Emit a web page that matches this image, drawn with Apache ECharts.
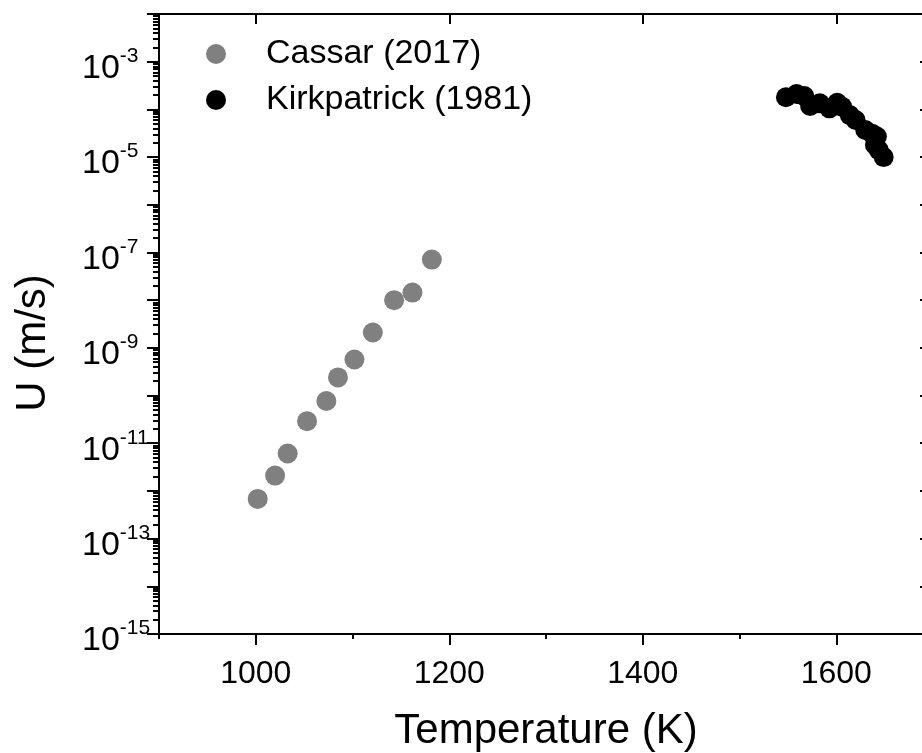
<!DOCTYPE html>
<html>
<head>
<meta charset="utf-8">
<script src="https://cdn.jsdelivr.net/npm/echarts@6/dist/echarts.min.js"></script>
<style>
  html, body { margin: 0; padding: 0; background: #fff; }
  #chart { width: 922px; height: 753px; }
</style>
</head>
<body>
<div id="chart"></div>
<script>
// Crystal growth rate U versus temperature
const cassarT = [1002, 1020, 1033, 1053, 1073, 1085, 1102, 1121, 1143, 1162, 1182];
const cassarU = [6.8e-13, 2.1e-12, 6.1e-12, 2.9e-11, 7.7e-11, 2.4e-10, 5.7e-10, 2.1e-9, 1.0e-8, 1.44e-8, 7.1e-8];

const kirkT = [1548, 1559, 1567, 1573, 1583, 1593, 1601, 1606, 1614, 1620, 1630, 1637, 1642, 1640, 1644, 1649];
const kirkU = [1.8e-4, 2.1e-4, 1.9e-4, 1.18e-4, 1.34e-4, 1.05e-4, 1.38e-4, 1.14e-4, 7.6e-5, 6.0e-5, 3.7e-5, 3.1e-5, 2.7e-5, 1.8e-5, 1.4e-5, 1.0e-5];

const xMajorTicks = [1000, 1200, 1400, 1600];
const xMinorTicks = [900, 1100, 1300, 1500, 1700];
const yDecadeTicks = [1e-15, 1e-14, 1e-13, 1e-12, 1e-11, 1e-10, 1e-9, 1e-8, 1e-7, 1e-6, 1e-5, 1e-4, 1e-3, 1e-2];
const yLabelTicks = [1e-15, 1e-13, 1e-11, 1e-9, 1e-7, 1e-5, 1e-3];
const yMantissas = [2, 3, 4, 5, 6, 7, 8, 9];

// minor log ticks: 2..9 times each decade
const yMinorTicks = [];
yDecadeTicks.slice(0, -1).forEach(d => yMantissas.forEach(m => yMinorTicks.push(parseFloat((m * d).toPrecision(3)))));

const FONT = '"Liberation Sans", Arial, Helvetica, sans-serif';
const AXIS_LINE = { show: true, lineStyle: { color: '#000', width: 2 } };
const TICK_STYLE = { color: '#000', width: 2 };

const chart = echarts.init(document.getElementById('chart'), null, { renderer: 'canvas' });

const yBase = {
  type: 'log', logBase: 10, min: 1e-15, max: 1e-2,
  splitLine: { show: false }, minorTick: { show: false }
};
const xBase = {
  type: 'value', min: 900, max: 1700,
  splitLine: { show: false }, minorTick: { show: false }
};

chart.setOption({
  animation: false,
  backgroundColor: '#fff',
  grid: { left: 159, right: -11, top: 14, bottom: 119, containLabel: false, outerBoundsMode: 'none' },
  legend: {
    orient: 'vertical', left: 201, top: 32,
    icon: 'circle', itemWidth: 20, itemHeight: 20, itemGap: 12,
    textStyle: { fontFamily: FONT, fontSize: 34, color: '#000', padding: [0, 0, 0, 35], lineHeight: 20 },
    data: ['Cassar (2017)', 'Kirkpatrick (1981)']
  },
  xAxis: [
    Object.assign({}, xBase, {
      position: 'bottom',
      axisLine: AXIS_LINE,
      axisTick: { show: true, inside: false, length: 11, lineStyle: TICK_STYLE, customValues: xMajorTicks },
      axisLabel: {
        show: true, customValues: xMajorTicks, formatter: v => String(v),
        fontFamily: FONT, fontSize: 32, color: '#000', margin: 24
      },
      name: 'Temperature (K)', nameLocation: 'middle', nameGap: 76,
      nameTextStyle: { fontFamily: FONT, fontSize: 42, color: '#000' }
    }),
    Object.assign({}, xBase, {
      position: 'bottom',
      axisLine: { show: false },
      axisTick: { show: true, inside: false, length: 5, lineStyle: TICK_STYLE, customValues: xMinorTicks },
      axisLabel: { show: false }
    }),
    Object.assign({}, xBase, {
      position: 'top',
      axisLine: AXIS_LINE,
      axisTick: { show: true, inside: true, length: 10, lineStyle: TICK_STYLE, customValues: xMajorTicks },
      axisLabel: { show: false }
    })
  ],
  yAxis: [
    Object.assign({}, yBase, {
      position: 'left',
      axisLine: AXIS_LINE,
      axisTick: { show: true, inside: false, length: 12, lineStyle: TICK_STYLE, customValues: yDecadeTicks },
      axisLabel: {
        show: true, customValues: yLabelTicks, margin: 77, align: 'left', padding: [8, 0, 0, 0],
        formatter: v => '{b|10}{s|' + Math.round(Math.log10(v)) + '}',
        rich: {
          b: { fontFamily: FONT, fontSize: 34, color: '#000', lineHeight: 40, verticalAlign: 'bottom' },
          s: { fontFamily: FONT, fontSize: 21, color: '#000', lineHeight: 18, verticalAlign: 'top' }
        }
      }
    }),
    Object.assign({}, yBase, {
      position: 'left',
      axisLine: { show: false },
      axisTick: { show: true, inside: false, length: 6, lineStyle: TICK_STYLE, customValues: yMinorTicks },
      axisLabel: { show: false }
    }),
    Object.assign({}, yBase, {
      position: 'right',
      axisLine: AXIS_LINE,
      axisTick: { show: true, inside: true, length: 13, lineStyle: TICK_STYLE, customValues: yDecadeTicks },
      axisLabel: { show: false }
    })
  ],
  graphic: [{
    type: 'text', x: 33, y: 343, rotation: Math.PI / 2,
    style: { text: 'U (m/s)', fontFamily: FONT, fontSize: 42, fill: '#000', align: 'center', verticalAlign: 'middle' }
  }],
  series: [
    {
      name: 'Cassar (2017)', type: 'scatter', symbol: 'circle', symbolSize: 20,
      itemStyle: { color: '#808080', opacity: 1 },
      data: cassarT.map((t, i) => [t, cassarU[i]])
    },
    {
      name: 'Kirkpatrick (1981)', type: 'scatter', symbol: 'circle', symbolSize: 20,
      itemStyle: { color: '#000', opacity: 1 },
      data: kirkT.map((t, i) => [t, kirkU[i]])
    }
  ]
});
</script>
</body>
</html>
